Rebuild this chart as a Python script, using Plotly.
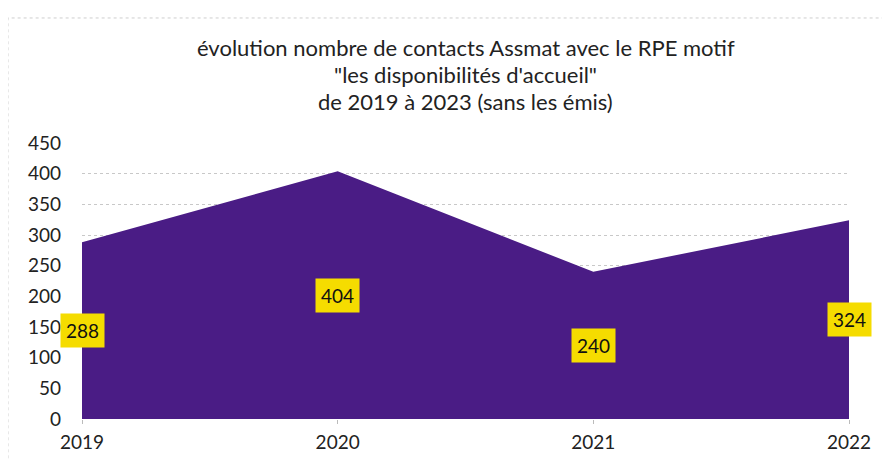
import plotly.graph_objects as go

years = [2019, 2020, 2021, 2022]
values = [288, 404, 240, 324]
y_ticks = [0, 50, 100, 150, 200, 250, 300, 350, 400, 450]
title_lines = [
    "évolution nombre de contacts Assmat avec le RPE motif",
    "\"les disponibilités d'accueil\"",
    "de 2019 à 2023 (sans les émis)",
]
title_offsets = [96, 69, 42]

FONT = "Lato, Carlito, Calibri, sans-serif"
fig = go.Figure()
fig.add_trace(go.Scatter(
    x=years, y=values, mode="lines", fill="tozeroy",
    line=dict(color="#4a1c85", width=0), fillcolor="#4a1c85",
    hoverinfo="skip", showlegend=False,
))

for x, v in zip(years, values):
    fig.add_annotation(
        x=x, y=v / 2, xref="x", yref="y", text=str(v), showarrow=False,
        bgcolor="#f5dc00", borderpad=5, font=dict(family=FONT, size=19, color="#111"),
    )

for line, off in zip(title_lines, title_offsets):
    fig.add_annotation(
        x=0.5, y=1, xref="paper", yref="paper", yanchor="middle", yshift=off,
        text=line, showarrow=False, align="center",
        font=dict(family=FONT, size=22, color="#222"),
    )

fig.add_shape(type="rect", xref="paper", yref="paper", x0=-0.0965, x1=1.2, y0=-0.3, y1=1.453,
              line=dict(color="#cfcfcf", width=1, dash="dot"))

# the page body adds an 8px offset, so the figure is 8px smaller
fig.update_layout(
    width=882, height=451,
    margin=dict(l=74, r=41, t=135, b=40, autoexpand=False),
    paper_bgcolor="white", plot_bgcolor="white",
    font=dict(family=FONT, size=19, color="#222"),
    xaxis=dict(range=[2019, 2022], tickvals=years, ticktext=[str(y) for y in years],
               showgrid=False, zeroline=False, showline=False, automargin=False,
               ticks="outside", ticklen=4, tickcolor="#bbb", ticklabelstandoff=2),
    yaxis=dict(range=[0, 450], tickvals=y_ticks, showgrid=True, gridcolor="#c8c8c8",
               griddash="dot", gridwidth=1, zeroline=False, showline=False,
               automargin=False, ticklabelstandoff=20),
)
fig.write_html("out.html")
